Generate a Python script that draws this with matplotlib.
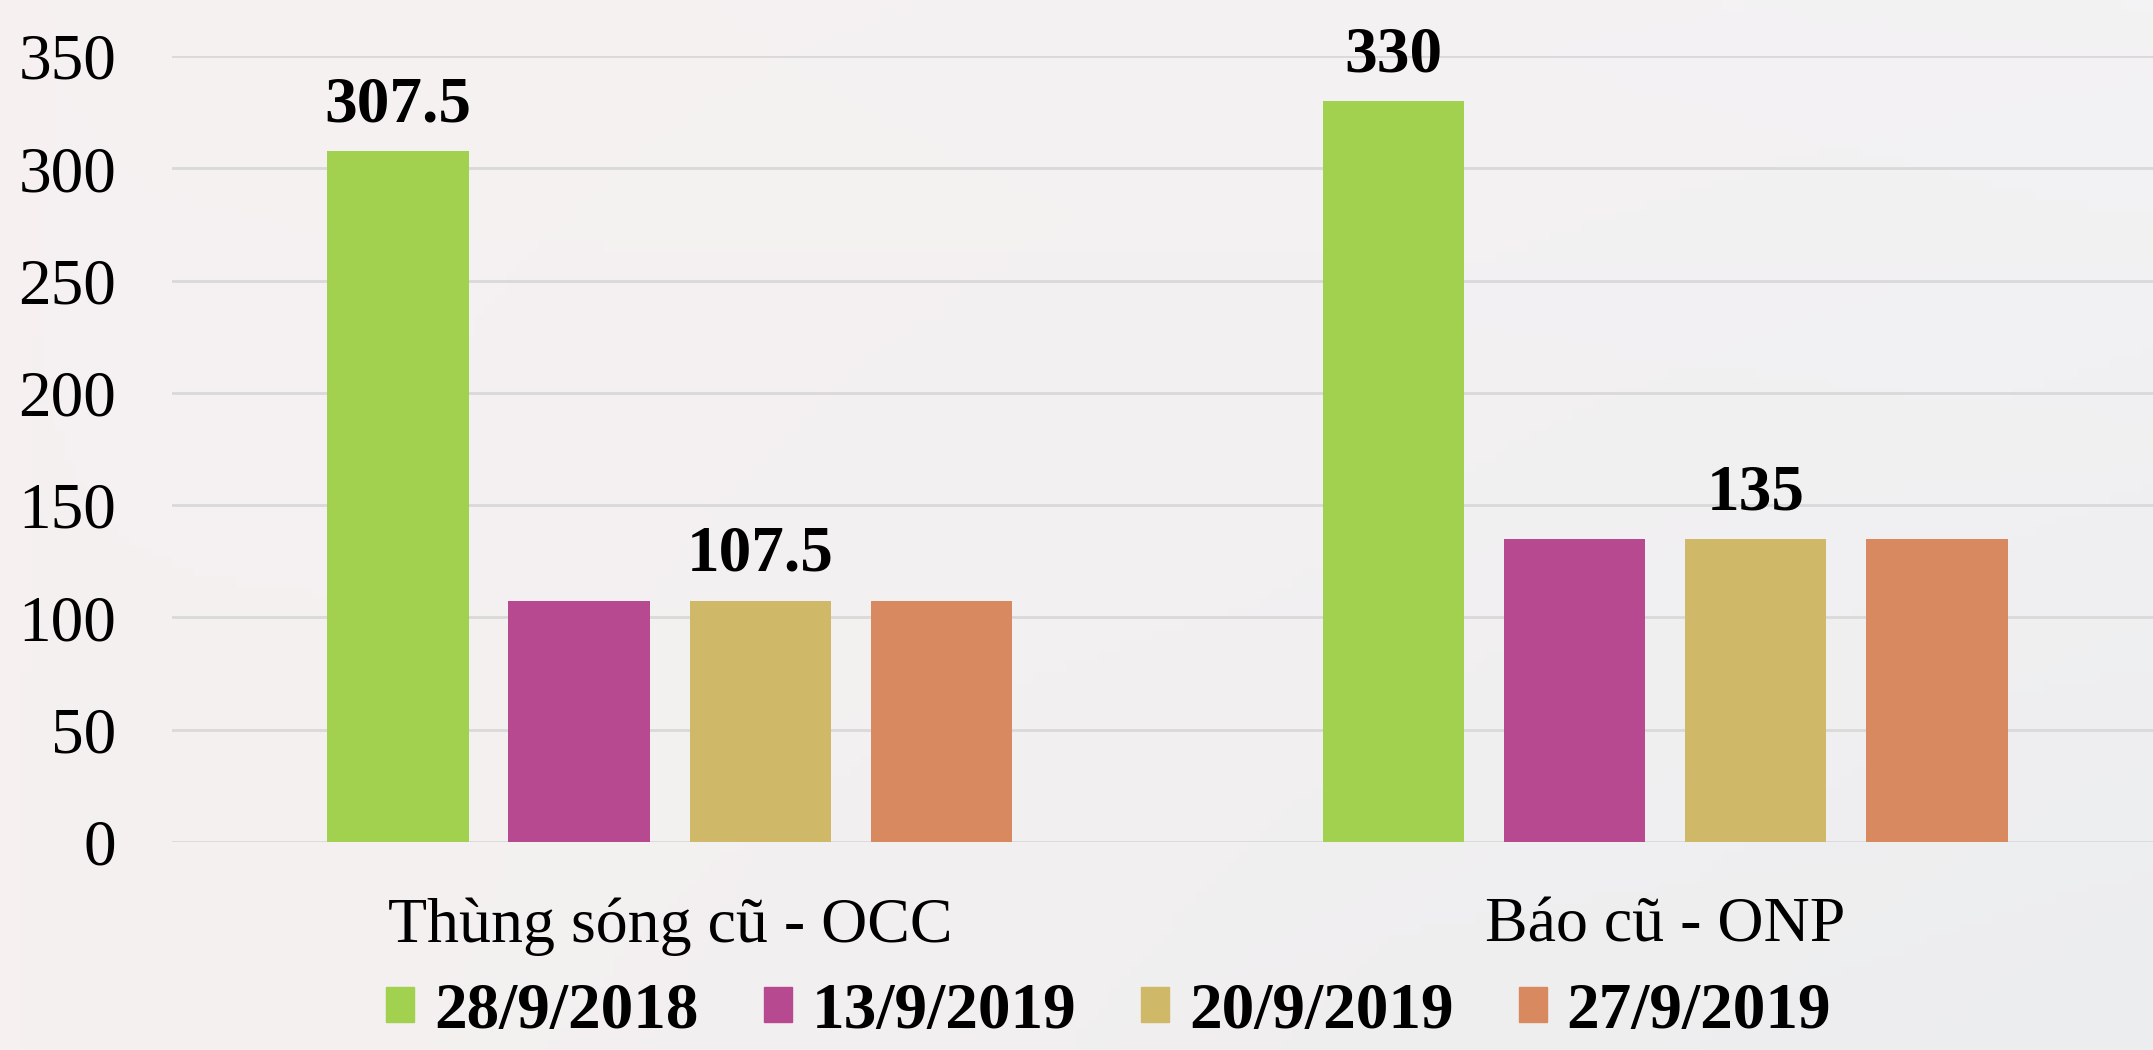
import numpy as np
import matplotlib.pyplot as plt
from matplotlib.patches import Patch

categories = ["Thùng sóng cũ - OCC", "Báo cũ - ONP"]
series_names = ["28/9/2018", "13/9/2019", "20/9/2019", "27/9/2019"]
values = [
    [307.5, 330],   # 28/9/2018
    [107.5, 135],   # 13/9/2019
    [107.5, 135],   # 20/9/2019
    [107.5, 135],   # 27/9/2019
]
# which bars carry a value label: (series index, category index)
labelled = [(0, 0), (2, 0), (0, 1), (2, 1)]
colors = ["#a2d04f", "#b74991", "#cfb968", "#d9895f"]

plt.rcParams['font.family'] = ['Liberation Serif', 'DejaVu Serif']

fig = plt.figure(figsize=(21.53, 10.5), dpi=100)

# soft background gradient
bg = fig.add_axes([0, 0, 1, 1], zorder=-10)
gx = np.linspace(0, 1, 200)
gy = np.linspace(0, 1, 100)
X, Y = np.meshgrid(gx, gy)
r = 0.965 - 0.03 * X * Y - 0.01 * X
g = 0.945 - 0.02 * X * Y + 0.005 * X
b = 0.945 - 0.02 * X * Y + 0.012 * X
bg.imshow(np.dstack([r, g, b]).clip(0, 1), aspect="auto", extent=[0, 1, 0, 1], origin="upper")
bg.axis("off")

ax = fig.add_axes([0.0799, 0.198, 0.9201, 0.7487])
ax.patch.set_alpha(0)

x = np.arange(len(categories))
width = 0.142
step = 0.182
for i, name in enumerate(series_names):
    ax.bar(x + (i - 1.5) * step, values[i], width, color=colors[i], label=name, zorder=3)

for si, ci in labelled:
    v = values[si][ci]
    txt = ("%g" % v)
    ax.text(x[ci] + (si - 1.5) * step, v + 7, txt, ha="center", va="bottom",
            fontsize=47, fontweight="bold", clip_on=False)

ax.set_ylim(0, 350)
ax.set_xlim(-0.5, 1.49)
ax.set_yticks(np.arange(0, 351, 50))
ax.yaxis.grid(True, color="#d9d9d9", linewidth=2, zorder=0)
ax.set_axisbelow(True)
for s in ax.spines.values():
    s.set_visible(False)
ax.tick_params(axis="y", length=0, labelsize=47, pad=40)
ax.set_xticks(x)
ax.set_xticklabels(categories)
ax.tick_params(axis="x", length=0, labelsize=46, pad=40)

handles = [Patch(color=c) for c in colors]
fig.legend(handles, series_names, loc="center", bbox_to_anchor=(0.515, 0.036),
           ncol=4, frameon=False, prop={"size": 47, "weight": "bold"},
           handlelength=0.43, handleheight=0.45, handletextpad=0.3, columnspacing=1.0)

fig.savefig("out.png", dpi=100)
